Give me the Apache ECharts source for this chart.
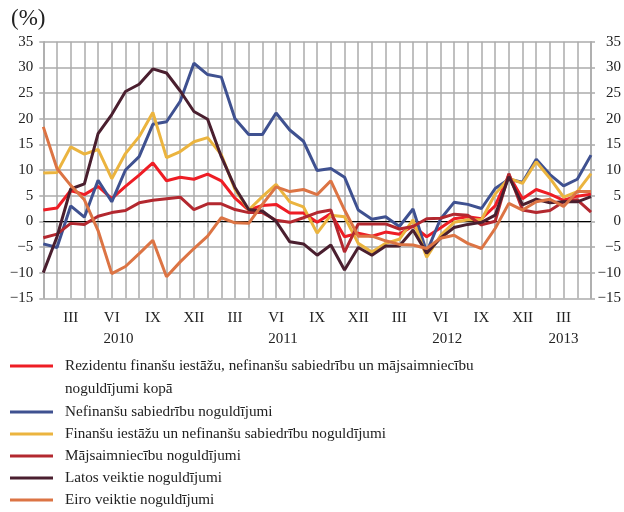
<!DOCTYPE html>
<html>
<head>
<meta charset="utf-8">
<script src="https://cdn.jsdelivr.net/npm/echarts@6/dist/echarts.min.js"></script>
<style>
  html, body { margin: 0; padding: 0; background: #fff; }
  #chart { width: 624px; height: 512px; }
</style>
</head>
<body>
<div id="chart"></div>
<script>
// mēneši: 2010. g. janvāris - 2013. g. maijs
const categories = [
  'I 2010', 'II 2010', 'III 2010', 'IV 2010', 'V 2010', 'VI 2010', 'VII 2010', 'VIII 2010', 'IX 2010', 'X 2010', 'XI 2010', 'XII 2010',
  'I 2011', 'II 2011', 'III 2011', 'IV 2011', 'V 2011', 'VI 2011', 'VII 2011', 'VIII 2011', 'IX 2011', 'X 2011', 'XI 2011', 'XII 2011',
  'I 2012', 'II 2012', 'III 2012', 'IV 2012', 'V 2012', 'VI 2012', 'VII 2012', 'VIII 2012', 'IX 2012', 'X 2012', 'XI 2012', 'XII 2012',
  'I 2013', 'II 2013', 'III 2013', 'IV 2013', 'V 2013'
];
const tickLabels = ['III', 'VI', 'IX', 'XII'];
const yearLabels = ['2010', '2011', '2012', '2013'];

const names = [
  'Rezidentu finanšu iestāžu, nefinanšu sabiedrību un mājsaimniecību',
  'Nefinanšu sabiedrību noguldījumi',
  'Finanšu iestāžu un nefinanšu sabiedrību noguldījumi',
  'Mājsaimniecību noguldījumi',
  'Latos veiktie noguldījumi',
  'Eiro veiktie noguldījumi'
];

const rezidentu = [2.2, 2.6, 6.0, 5.2, 6.8, 4.4, 6.8, 9.0, 11.4, 7.9, 8.6, 8.2, 9.2, 7.9, 4.5, 2.2, 3.1, 3.3, 1.6, 1.6,
  -0.2, 1.5, -3.0, -2.3, -2.9, -2.1, -2.5, -0.9, -3.0, -1.3, 0.5, 0.9, 0.5, 3.0, 9.0, 4.4, 6.2, 5.3, 4.1, 4.9, 5.3];
const nefinansu = [-4.4, -5.1, 3.0, 0.8, 8.0, 3.8, 10.0, 12.6, 18.9, 19.4, 23.4, 30.8, 28.6, 28.1, 20.0, 16.9, 16.9, 21.1, 17.8, 15.6,
  9.9, 10.3, 8.6, 2.2, 0.4, 0.9, -1.0, 2.4, -6.0, 0.4, 3.7, 3.3, 2.5, 6.4, 8.2, 7.6, 12.1, 9.1, 6.9, 8.2, 12.9];
const finansuUnNefinansu = [9.4, 9.5, 14.5, 13.1, 14.0, 8.3, 13.2, 16.5, 21.2, 12.4, 13.6, 15.5, 16.3, 13.0, 6.2, 2.2, 4.8, 7.2, 3.8, 2.8,
  -2.3, 1.2, 0.9, -4.3, -6.0, -4.3, -3.5, 0.3, -7.0, -2.8, -0.2, 0.3, 0.3, 5.3, 8.4, 7.4, 11.6, 8.4, 4.7, 5.8, 9.3];
const majsaimniecibu = [-3.2, -2.5, -0.4, -0.6, 1.0, 1.7, 2.1, 3.6, 4.1, 4.4, 4.7, 2.3, 3.4, 3.4, 2.3, 1.7, 1.7, 0.2, -0.2, 0.7,
  1.7, 2.2, -6.0, -0.5, -0.5, -0.5, -1.5, -1.0, 0.5, 0.6, 1.4, 1.2, -0.7, 0.0, 9.3, 2.2, 1.7, 2.1, 3.8, 4.2, 1.8];
const latos = [-10.0, -3.0, 6.3, 7.3, 17.1, 20.8, 25.3, 26.7, 29.7, 28.9, 25.4, 21.4, 19.9, 12.6, 6.6, 2.3, 2.0, 0.0, -4.0, -4.4,
  -6.6, -4.6, -9.5, -5.1, -6.6, -4.8, -4.8, -1.7, -6.2, -3.3, -1.2, -0.6, -0.2, 1.2, 8.7, 3.2, 4.3, 3.6, 3.8, 3.8, 4.8];
const eiro = [18.4, 10.3, 7.0, 4.2, -1.8, -10.2, -8.8, -6.3, -3.7, -10.8, -7.9, -5.3, -2.9, 0.7, -0.3, -0.4, 3.3, 6.7, 5.8, 6.2,
  5.2, 7.9, 2.2, -2.9, -2.9, -3.8, -4.5, -4.6, -5.3, -3.3, -2.7, -4.3, -5.3, -1.4, 3.5, 2.2, 3.8, 4.3, 2.9, 5.8, 5.8];

const seriesData = [rezidentu, nefinansu, finansuUnNefinansu, majsaimniecibu, latos, eiro];
const colors = ['#ee1d25', '#3f5190', '#ebb43f', '#b3282f', '#4a1f2f', '#dc7444'];

// gada nosaukums mēnešu vidū
const yearCenters = yearLabels.map(function (y) {
  let idx = [];
  categories.forEach(function (c, i) { if (c.split(' ')[1] === y) idx.push(i); });
  return (idx[0] + idx[idx.length - 1]) / 2;
});

const serif = '"Liberation Serif", "DejaVu Serif", serif';
const gridColor = '#ababab';

function fmtNum(v) {
  return v < 0 ? '\u2212' + Math.abs(v) : String(v);
}

let myChart = echarts.init(document.getElementById('chart'));

let series = seriesData.map(function (d, i) {
  return {
    name: names[i],
    type: 'line',
    data: d,
    symbol: 'none',
    color: colors[i],
    lineStyle: { width: 3, color: colors[i] },
    z: 3
  };
});
// nulles līnija
series[0].markLine = {
  silent: true,
  symbol: 'none',
  label: { show: false },
  lineStyle: { color: '#000', width: 1, type: 'solid' },
  data: [{ yAxis: 0 }],
  z: 1
};

const legendText = { fontFamily: serif, fontSize: 15.2, color: '#222', lineHeight: 22, padding: [0, 0, 0, 7] };

myChart.setOption({
  animation: false,
  color: colors,
  title: {
    text: '(%)',
    left: 6,
    top: 2,
    textStyle: { fontFamily: serif, fontSize: 23, fontWeight: 'normal', color: '#222' }
  },
  grid: { left: 43.3, right: 31.3, top: 41.7, bottom: 213.7 },
  legend: [
    {
      data: [names[0]],
      orient: 'vertical',
      left: 10,
      top: 355,
      height: 30,
      padding: 0,
      icon: 'rect',
      itemWidth: 43,
      itemHeight: 3,
      itemGap: 0,
      selectedMode: false,
      textStyle: legendText
    },
    {
      data: names.slice(1),
      orient: 'vertical',
      left: 10,
      top: 401,
      height: 120,
      padding: 0,
      icon: 'rect',
      itemWidth: 43,
      itemHeight: 3,
      itemGap: 0,
      selectedMode: false,
      textStyle: legendText
    }
  ],
  graphic: [{
    type: 'text',
    left: 65,
    top: 382,
    style: { text: 'noguldījumi kopā', fontFamily: serif, fontSize: 15.2, fill: '#222' }
  }],
  xAxis: [
    {
      type: 'category',
      data: categories,
      boundaryGap: false,
      axisLine: { show: true, lineStyle: { color: gridColor, width: 1.5 } },
      axisTick: { show: true, interval: 0, length: 6, lineStyle: { color: gridColor, width: 1.5 } },
      splitLine: { show: true, interval: 0, lineStyle: { color: gridColor, width: 1.5 } },
      axisLabel: {
        interval: function (index, value) {
          return tickLabels.indexOf(value.split(' ')[0]) >= 0;
        },
        formatter: function (value) { return value.split(' ')[0]; },
        margin: 12,
        fontFamily: serif,
        fontSize: 15,
        color: '#222'
      }
    },
    {
      type: 'value',
      position: 'bottom',
      min: 0,
      max: categories.length - 1,
      axisLine: { show: false },
      axisTick: { show: false },
      splitLine: { show: false },
      axisLabel: {
        customValues: yearCenters,
        formatter: function (v) { return yearLabels[yearCenters.indexOf(v)]; },
        margin: 33,
        fontFamily: serif,
        fontSize: 15,
        color: '#222'
      }
    }
  ],
  yAxis: [
    {
      type: 'value',
      min: -15,
      max: 35,
      interval: 5,
      axisLine: { show: true, lineStyle: { color: gridColor, width: 1.5 } },
      axisTick: { show: true, length: 4, lineStyle: { color: gridColor, width: 1.5 } },
      splitLine: { show: true, lineStyle: { color: gridColor, width: 1.5 } },
      axisLabel: { formatter: fmtNum, margin: 10, fontFamily: serif, fontSize: 15, color: '#222' }
    },
    {
      type: 'value',
      position: 'right',
      min: -15,
      max: 35,
      interval: 5,
      axisLine: { show: true, lineStyle: { color: gridColor, width: 1.5 } },
      axisTick: { show: true, length: 4, lineStyle: { color: gridColor, width: 1.5 } },
      splitLine: { show: false },
      axisLabel: { formatter: fmtNum, margin: 30, align: 'right', fontFamily: serif, fontSize: 15, color: '#222' }
    }
  ],
  series: series
});
</script>
</body>
</html>
